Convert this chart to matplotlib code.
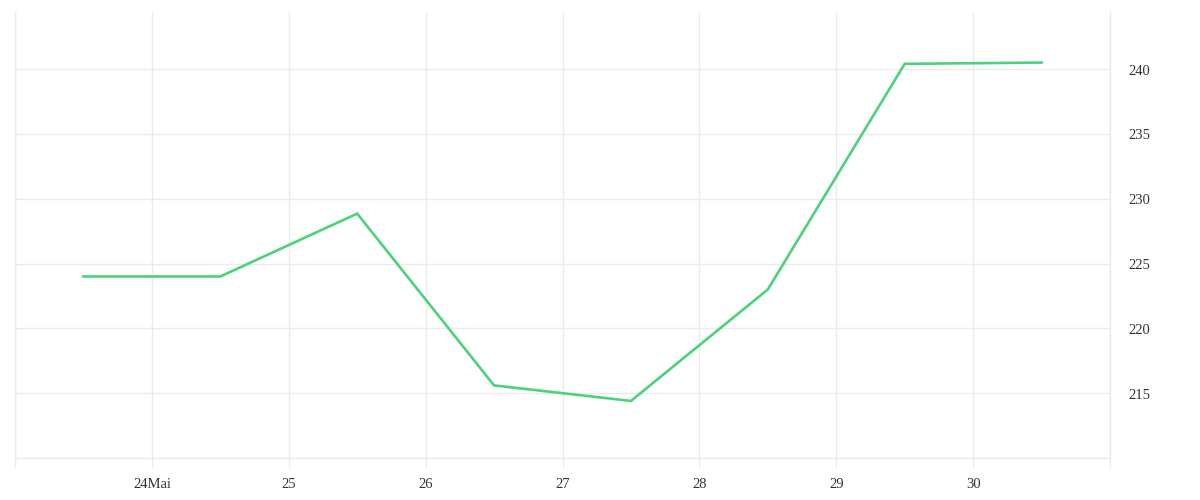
import matplotlib
matplotlib.use("Agg")
import matplotlib.pyplot as plt

# daily values, placed in the middle of each day
days = [23.5, 24.5, 25.5, 26.5, 27.5, 28.5, 29.5, 30.5]
values = [224.0, 224.0, 228.85, 215.6, 214.4, 223.0, 240.4, 240.5]

x_ticks = [23, 24, 25, 26, 27, 28, 29, 30, 31]
x_labels = ["", "24Mai", "25", "26", "27", "28", "29", "30", ""]
y_ticks = [210, 215, 220, 225, 230, 235, 240]
y_labels = ["", "215", "220", "225", "230", "235", "240"]

grid_col = "#ebebeb"
text_col = "#333333"

plt.rcParams["font.family"] = ["Liberation Serif", "DejaVu Serif"]

fig = plt.figure(figsize=(12, 5), dpi=100)
ax = fig.add_axes([0.0125, 0.084, 0.9125, 0.892])

ax.plot(days, values, color="#4cd27a", linewidth=1.9, solid_joinstyle="miter")

ax.set_xlim(23, 31)
ax.set_ylim(210, 244.4)
ax.set_xticks(x_ticks)
ax.set_xticklabels(x_labels)
ax.set_yticks(y_ticks)
ax.set_yticklabels(y_labels)
ax.yaxis.tick_right()

ax.grid(True, color=grid_col, linewidth=1)
ax.set_axisbelow(True)

ax.spines["top"].set_visible(False)
for side in ["left", "right", "bottom"]:
    ax.spines[side].set_color(grid_col)
    ax.spines[side].set_linewidth(1)

ax.tick_params(axis="x", length=7, color=grid_col, width=1, pad=7.5,
               labelsize=10.5, labelcolor=text_col)
ax.tick_params(axis="y", length=0, pad=13, labelsize=10.5, labelcolor=text_col)
# labels sit a touch below their gridline in the original
for lab in ax.get_yticklabels():
    lab.set_verticalalignment("center")
    lab.set_y(lab.get_position()[1])
import matplotlib.transforms as mtransforms
offset = mtransforms.ScaledTranslation(0, -2 / 100, fig.dpi_scale_trans)
for lab in ax.get_yticklabels():
    lab.set_transform(lab.get_transform() + offset)

fig.savefig("out.png", dpi=100, facecolor="white")
